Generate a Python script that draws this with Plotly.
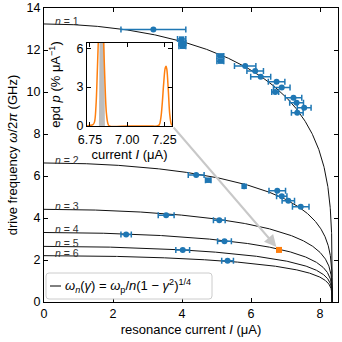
import numpy as np
import plotly.graph_objects as go

# ---------------- data ----------------
omega_p = 13.24          # GHz  (plasma frequency, n = 1 at I = 0)
I_c = 8.35               # uA   (critical current)
branch_n = [1, 2, 3, 4, 5, 6]

# measured resonances (circles) : current, frequency, current uncertainty
circ_I = [3.17, 5.83, 6.12, 6.28, 6.74, 6.89, 6.70, 7.23, 7.32, 7.54, 7.34,
          4.41, 6.76, 6.89, 7.08, 7.44,
          3.54, 5.08,
          2.38, 5.23,
          4.02,
          5.32]
circ_f = [12.98, 11.24, 11.00, 10.73, 10.49, 10.22, 10.00, 9.73, 9.49, 9.25, 9.01,
          6.05, 5.30, 5.03, 4.82, 4.54,
          4.13, 3.89,
          3.22, 2.89,
          2.48,
          1.97]
circ_err = [0.94, 0.31, 0.24, 0.29, 0.24, 0.24, 0.10, 0.24, 0.20, 0.20, 0.17,
            0.23, 0.24, 0.15, 0.18, 0.24,
            0.23, 0.17,
            0.15, 0.20,
            0.20,
            0.17]

# measured resonances (squares)
sq_I = [3.99, 4.01, 4.01, 5.11, 5.11, 4.76, 5.80]
sq_f = [12.52, 12.33, 12.18, 11.72, 11.47, 5.80, 5.51]
sq_err = [0.12, 0.10, 0.10, 0.10, 0.10, 0.08, 0.0]

# highlighted resonance
sel_I = [6.81]
sel_f = [2.48]

# inset: estimated probability density
epd_I = [6.73, 6.75, 6.77, 6.78, 6.79, 6.80, 6.81, 6.82, 6.83, 6.84, 6.85, 6.86,
         6.87, 6.88, 7.00, 7.15, 7.20, 7.215, 7.225, 7.235, 7.245, 7.255, 7.26,
         7.265, 7.275, 7.285, 7.295, 7.30]
epd_p = [0.0, 0.05, 0.1, 0.3, 1.5, 4.5, 8.0, 11.0, 10.0, 7.0, 3.5, 1.0,
         0.2, 0.0, 0.0, 0.0, 0.0, 0.1, 0.6, 1.8, 3.4, 4.5, 4.6,
         4.4, 2.8, 0.9, 0.15, 0.05]
gray_I = [6.81, 6.815, 6.83, 6.845, 6.85]
gray_p = [0.0, 9.0, 14.0, 9.0, 0.0]

main_xticks = [0, 2, 4, 6, 8]
main_yticks = [0, 2, 4, 6, 8, 10, 12, 14]
inset_xticks = [6.75, 7.00, 7.25]
inset_yticks = [0, 3, 6]

# ---------------- figure ----------------
W = H = 342
L, R, T, B = 44, 4, 8, 40
PW, PH = W - L - R, H - T - B


def px(xp):
    return (xp - L) / PW


def py(yp):
    return (H - B - yp) / PH


BLUE = "#1f77b4"
ORANGE = "#ff7f0e"
FONT = "Liberation Sans"

fig = go.Figure()

theta = np.linspace(0, np.pi / 2, 600)
for n in branch_n:
    gam = np.sin(theta)
    fig.add_trace(go.Scatter(x=I_c * gam, y=omega_p / n * np.sqrt(np.cos(theta)),
                             mode="lines", line=dict(color="#111111", width=1),
                             showlegend=False, hoverinfo="skip"))

fig.add_trace(go.Scatter(x=circ_I, y=circ_f, mode="markers",
                         marker=dict(color=BLUE, size=6, symbol="circle"),
                         error_x=dict(type="data", array=circ_err, color=BLUE,
                                      thickness=1.5, width=3),
                         showlegend=False))
fig.add_trace(go.Scatter(x=sq_I, y=sq_f, mode="markers",
                         marker=dict(color=BLUE, size=5.5, symbol="square"),
                         error_x=dict(type="data", array=sq_err, color=BLUE,
                                      thickness=1.5, width=3),
                         showlegend=False))
fig.add_trace(go.Scatter(x=sel_I, y=sel_f, mode="markers",
                         marker=dict(color=ORANGE, size=6, symbol="square"),
                         showlegend=False))

# inset traces
fig.add_trace(go.Scatter(x=gray_I, y=gray_p, mode="lines", fill="tozeroy",
                         fillcolor="#bdbdbd", line=dict(width=0, color="#bdbdbd"),
                         xaxis="x2", yaxis="y2", showlegend=False))
fig.add_trace(go.Scatter(x=epd_I, y=epd_p, mode="lines",
                         line=dict(color=ORANGE, width=1.5, shape="spline"),
                         xaxis="x2", yaxis="y2", showlegend=False))

axis_common = dict(showline=True, linecolor="black", linewidth=1, mirror="allticks",
                   ticks="inside", ticklen=4, tickcolor="black", showgrid=False,
                   zeroline=False, tickfont=dict(size=12.5, color="black", family=FONT))

fig.update_layout(
    width=W, height=H,
    margin=dict(l=L, r=R, t=T, b=B, autoexpand=False),
    paper_bgcolor="white", plot_bgcolor="white",
    font=dict(family=FONT, size=13, color="black"),
    xaxis=dict(range=[0, 8.52], tickvals=main_xticks, domain=[0, 1],
               title=dict(text="resonance current <i>I</i> (μA)", standoff=4,
                          font=dict(size=13)), **axis_common),
    yaxis=dict(range=[0, 14], tickvals=main_yticks, domain=[0, 1],
               title=dict(text="drive frequency <i>ω</i>/2<i>π</i> (GHz)", standoff=6,
                          font=dict(size=13)), **axis_common),
    xaxis2=dict(range=[6.73, 7.30], tickvals=inset_xticks, tickformat=".2f",
                domain=[px(87), px(172)], anchor="y2", ticklabelstandoff=2,
                title=dict(text="current <i>I</i> (μA)", standoff=3, font=dict(size=13)),
                **axis_common),
    yaxis2=dict(range=[0, 6.4], tickvals=inset_yticks,
                domain=[py(126), py(43)], anchor="x2",
                title=dict(text="epd <i>p</i> (% μA<sup>−1</sup>)", standoff=12,
                           font=dict(size=13)),
                **axis_common),
)

# branch labels
annotations = []
for n in branch_n:
    annotations.append(dict(x=0.26, y=omega_p / n + 0.15, xref="x", yref="y",
                            text=f"<i>n</i> = {n}", showarrow=False,
                            xanchor="left", yanchor="middle",
                            font=dict(size=10.5, color="#333333", family=FONT)))

# arrow from inset to highlighted point
annotations.append(dict(x=sel_I[0], y=sel_f[0], xref="x", yref="y",
                        ax=3.72, ay=8.38, axref="x", ayref="y",
                        text="", showarrow=True, arrowhead=2, arrowsize=1.2,
                        arrowwidth=2, arrowcolor="#c8c8c8", standoff=4))

# legend text
annotations.append(dict(x=px(63), y=py(286), xref="paper", yref="paper",
                        text="<i>ω</i><sub><i>n</i></sub>(<i>γ</i>) = <i>ω</i><sub>p</sub>/<i>n</i>(1 − <i>γ</i><sup>2</sup>)<sup>1/4</sup>",
                        showarrow=False, xanchor="left", yanchor="middle",
                        font=dict(size=13, color="black", family=FONT)))
fig.update_layout(annotations=annotations)

# legend box with rounded corners
x0, x1, y0, y1 = px(46), px(212), py(299), py(273)
rx, ry = 3 / PW, 3 / PH
path = (f"M {x0+rx},{y0} L {x1-rx},{y0} Q {x1},{y0} {x1},{y0+ry} "
        f"L {x1},{y1-ry} Q {x1},{y1} {x1-rx},{y1} L {x0+rx},{y1} "
        f"Q {x0},{y1} {x0},{y1-ry} L {x0},{y0+ry} Q {x0},{y0} {x0+rx},{y0} Z")
fig.add_shape(type="path", path=path, xref="paper", yref="paper",
              line=dict(color="#cccccc", width=1), fillcolor="rgba(255,255,255,0.85)")
fig.add_shape(type="line", x0=px(50), x1=px(61), y0=py(286), y1=py(286),
              xref="paper", yref="paper", line=dict(color="black", width=1))

fig.write_html("out.html", config={"displayModeBar": False},
               post_script="document.body.style.margin='0';document.body.style.overflow='hidden';")
